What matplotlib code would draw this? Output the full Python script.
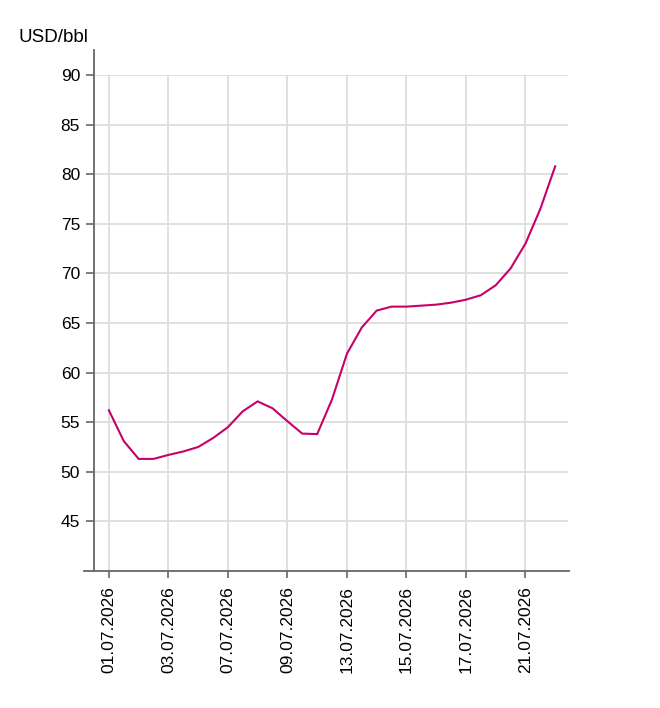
import matplotlib
matplotlib.use("Agg")
import matplotlib.pyplot as plt

# Data
values = [56.2, 53.1, 51.3, 51.3, 51.7, 52.05, 52.5, 53.4, 54.5, 56.1, 57.1, 56.4,
          55.1, 53.85, 53.8, 57.3, 61.9, 64.55, 66.25, 66.65, 66.65, 66.75, 66.85,
          67.05, 67.35, 67.8, 68.8, 70.5, 73.0, 76.5, 80.8]
x_idx = list(range(len(values)))
tick_positions = [0, 4, 8, 12, 16, 20, 24, 28]
tick_labels = ["01.07.2026", "03.07.2026", "07.07.2026", "09.07.2026",
               "13.07.2026", "15.07.2026", "17.07.2026", "21.07.2026"]
y_ticks = [45, 50, 55, 60, 65, 70, 75, 80, 85, 90]
unit_label = "USD/bbl"

plt.rcParams['font.family'] = ['Liberation Sans', 'DejaVu Sans']

W, H = 660, 708
fig = plt.figure(figsize=(W / 100, H / 100), dpi=100)
ax = fig.add_axes([94 / W, 1 - 571 / H, (568 - 94) / W, (571 - 75) / H])

axis_col = '#666666'
grid_col = '#dddddd'

ax.plot(x_idx, values, color='#c8006a', lw=1.5, zorder=3, solid_joinstyle='miter')

ax.set_xlim(-1.0, 30.86)
ax.set_ylim(40, 90)
ax.set_yticks(y_ticks)
ax.set_xticks(tick_positions)
ax.set_xticklabels(tick_labels, rotation=90, ha='center', va='top')

ax.grid(True, color=grid_col, lw=1.3)
ax.set_axisbelow(True)
for s in ax.spines.values():
    s.set_visible(False)

ax.tick_params(axis='y', length=6, width=1.2, color=axis_col, pad=4,
               labelsize=12.5, labelcolor='#000000')
ax.tick_params(axis='x', length=5, width=1.2, color=axis_col, pad=6,
               labelsize=12.5, labelcolor='#000000')

# custom axis lines
ax.plot([-10 / 474, 1.002], [0, 0], transform=ax.transAxes, color=axis_col,
        lw=1.3, clip_on=False, zorder=4)
ax.plot([0, 0], [0, (571 - 50) / 496], transform=ax.transAxes, color=axis_col,
        lw=1.3, clip_on=False, zorder=4)

fig.text(18 / W, 1 - 38 / H, unit_label, fontsize=13.5, color='#000000',
         ha='left', va='center')

fig.savefig("out.png", dpi=100)
